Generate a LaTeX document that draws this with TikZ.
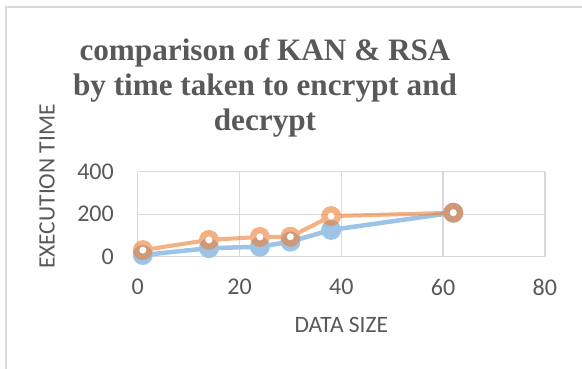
\documentclass[tikz,border=0pt]{standalone}
\usepackage{fontspec}
\setmainfont{Liberation Serif}
\newfontfamily\calib{Carlito}
\definecolor{txt}{HTML}{595959}
\definecolor{gridc}{HTML}{D9D9D9}
\definecolor{kblue}{HTML}{9DC3E6}
\definecolor{korange}{HTML}{ED7D31}
\begin{document}
\begin{tikzpicture}[x=1pt,y=-1pt,
  gridline/.style={draw=gridc,line width=1.3pt},
  ticklabel/.style={inner sep=0pt,text=txt,font=\calib\fontsize{24}{28}\selectfont},
  axistitle/.style={inner sep=0pt,text=txt,font=\calib\fontsize{23.5}{27}\selectfont},
  blueline/.style={draw=kblue,line width=4.5pt,line join=round,line cap=round},
  orangeline/.style={draw=korange,line width=4pt,line join=round,line cap=round},
  bluemark/.style={fill=kblue},
  orangemark/.style={fill=korange},
  hole/.style={fill=white}]
\useasboundingbox (0,0) rectangle (582,369);
\fill[white] (0,0) rectangle (582,369);
\draw[gridc,line width=1.5pt] (6,369) -- (6,7) -- (582,7);
\node[anchor=north,align=center,inner sep=0pt,text=txt,
  font=\fontsize{31.2}{35}\selectfont\bfseries] (title) at (265,38)
  {comparison of KAN \& RSA\\by time taken to encrypt and\\decrypt};
\node[axistitle,rotate=90] (ytitle) at (47,186.5) {EXECUTION TIME};
\node[axistitle] (xtitle) at (341.3,325) {DATA SIZE};
\begin{scope}[shift={(137.7pt,-256.7pt)},x=5.09pt,y=0.2125pt]
  \foreach \gx in {0,20,40,60,80} {
    \draw[gridline] (\gx,0) -- (\gx,400);
    \node[ticklabel] (xl\gx) at ([yshift=-30.3pt]\gx,0) {\gx};
  }
  \foreach \gy in {0,200,400} {
    \draw[gridline] (0,\gy) -- (80,\gy);
    \node[ticklabel,anchor=east] (yl\gy) at ([xshift=-23.7pt]0,\gy) {\gy};
  }
  \coordinate (b1) at (1,8);
  \coordinate (b2) at (14,40);
  \coordinate (b3) at (24,47);
  \coordinate (b4) at (30,71);
  \coordinate (b5) at (38,126);
  \coordinate (b6) at (62,207);
  \coordinate (o1) at (1,31);
  \coordinate (o2) at (14,79);
  \coordinate (o3) at (24,93);
  \coordinate (o4) at (30,94);
  \coordinate (o5) at (38,191);
  \coordinate (o6) at (62,207);
  \draw[blueline] (b1) -- (b2) -- (b3) -- (b4) -- (b5) -- (b6);
  \foreach \p in {b1,b2,b3,b4,b5,b6} \fill[bluemark] (\p) circle[radius=10pt];
  \begin{scope}[transparency group,opacity=0.6]
    \draw[orangeline] (o1) -- (o2) -- (o3) -- (o4) -- (o5) -- (o6);
    \foreach \p in {o1,o2,o3,o4,o5,o6} \fill[orangemark] (\p) circle[radius=10pt];
  \end{scope}
  \foreach \p in {o1,o2,o3,o4,o5,o6} \fill[hole] (\p) circle[radius=3.5pt];
\end{scope}
\end{tikzpicture}
\end{document}
